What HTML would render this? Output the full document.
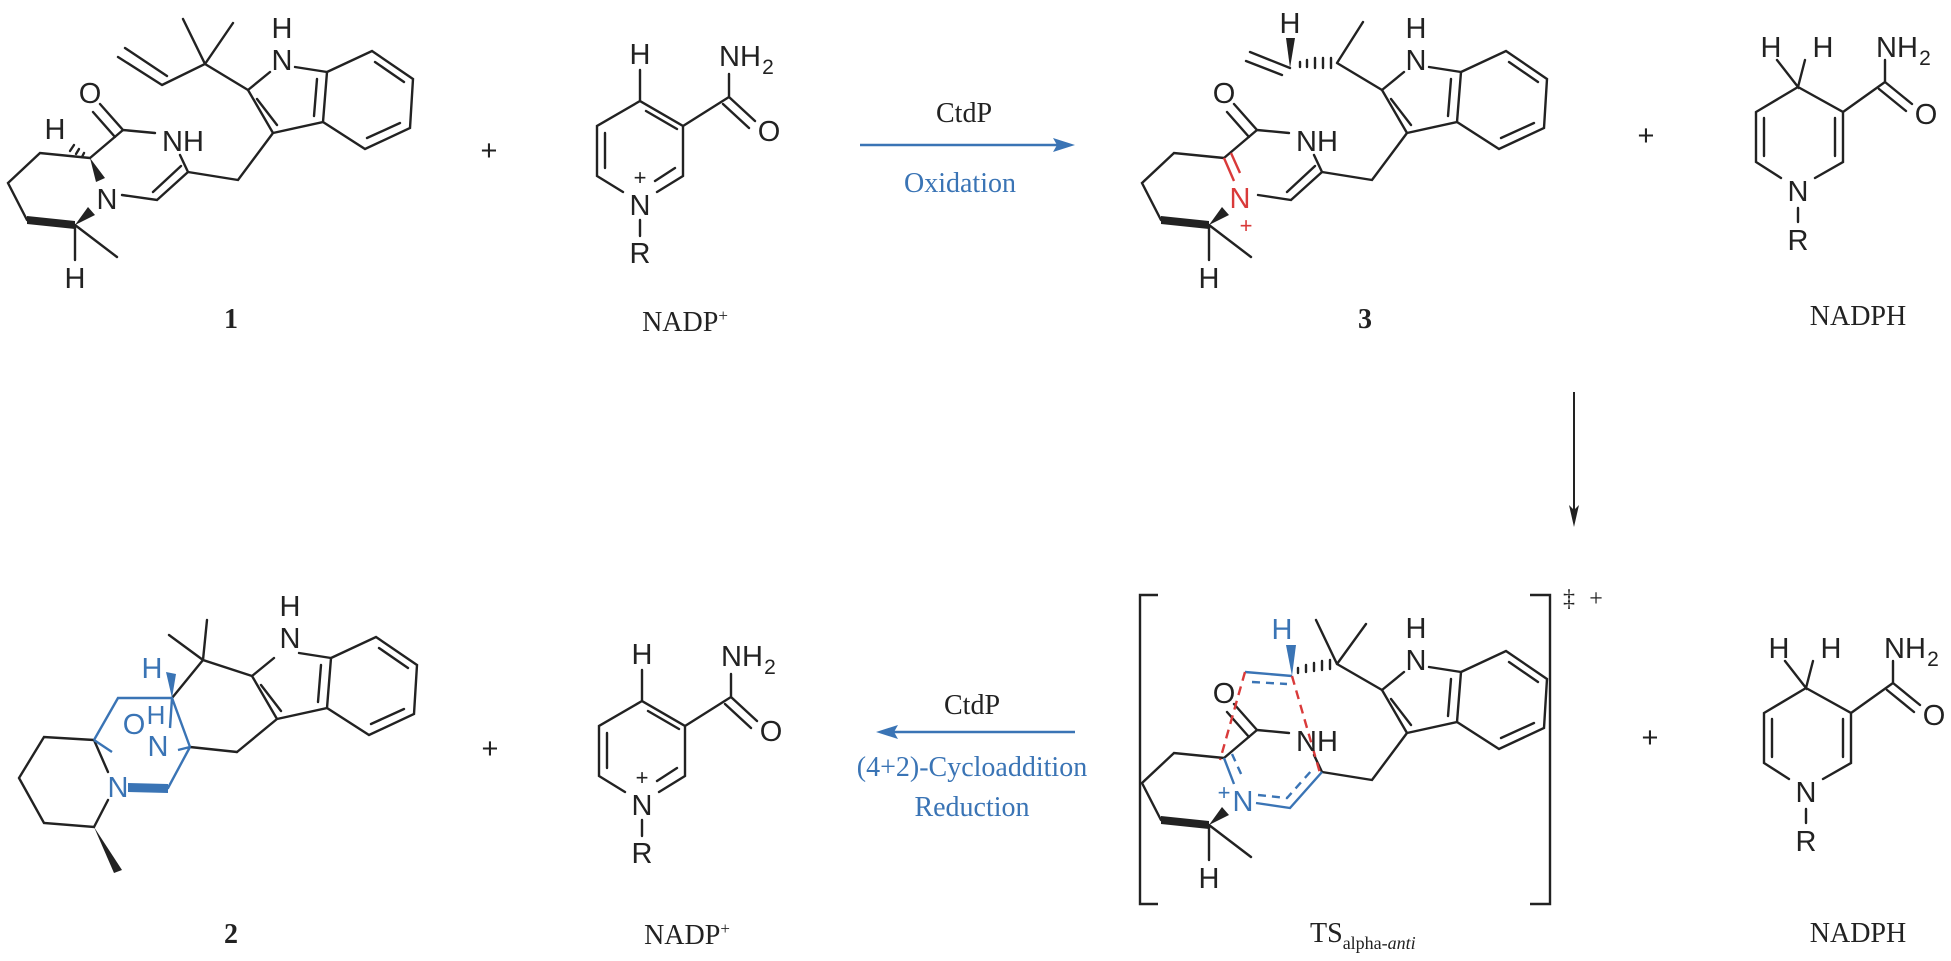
<!DOCTYPE html>
<html><head><meta charset="utf-8"><style>
html,body{margin:0;padding:0;background:#fff;}
svg{display:block;}
.a{font-family:"Liberation Sans",sans-serif;font-size:29px;fill:#222;text-anchor:middle;}
.s{font-family:"Liberation Serif",serif;font-size:28px;fill:#222;text-anchor:middle;}
.b{stroke:#222;stroke-width:2.4;fill:none;stroke-linecap:round;}
.bl{stroke:#3a74b5;stroke-width:2.4;fill:none;}
.rd{stroke:#d93a3a;stroke-width:2.4;fill:none;stroke-dasharray:9 6;}
</style></head><body>
<svg width="1951" height="961" viewBox="0 0 1951 961" xmlns="http://www.w3.org/2000/svg">
<defs>
<g id="core">
 <path class="b" d="M248,90 L273,133 M257,99 L277,125 M248,90 L270,72 M295,67 L327,72 M273,133 L323,122 L327,72 M314,116 L317,79 M327,72 L372,51 L413,79 L410,128 L365,149 L323,122 M375,62 L404,82 M400,123 L367,138 M273,133 L238,180 L188,172 M188,172 L180,155 M155,133 L123,130 M123,130 L100,104 M115,137 L93,112 M90,158 L123,130 M90,158 L40,153 L8,183 L27,220 M75,225 L117,257 M75,225 L75,260"/>
 <polygon points="27,216 75,221 75,229 27,224" fill="#222"/>
 <polygon points="75,225 88,207 95,215" fill="#222"/>
</g>
<g id="nadp">
 <path class="b" d="M640,70 L640,101 L683,126 L683,176 M646,111 L677,129 M683,176 L657,192 M675,168 L655,181 M623,192 L597,176 L597,126 L640,101 M605,168 L605,133 M683,126 L729,97 L729,74 M729,97 L755,121 M723,104 L749,128 M640,220 L640,236"/>
 <text class="a" x="640" y="64">H</text>
 <text class="a" x="740" y="66">NH</text><text class="a" x="768" y="74" style="font-size:21px">2</text>
 <text class="a" x="769" y="141">O</text>
 <text class="a" x="640" y="215">N</text>
 <text class="a" x="640" y="185" style="font-size:22px">+</text>
 <text class="a" x="640" y="263">R</text>
</g>
<g id="nadph">
 <path class="b" d="M1777,60 L1798,87 L1805,60 M1798,87 L1843,112 L1843,162 L1815,178 M1835,118 L1835,156 M1781,178 L1756,162 L1756,112 L1798,87 M1764,118 L1764,156 M1843,112 L1885,82 L1885,60 M1885,82 L1912,104 M1879,89 L1906,111 M1798,208 L1798,222"/>
 <text class="a" x="1771" y="57">H</text><text class="a" x="1823" y="57">H</text>
 <text class="a" x="1897" y="57">NH</text><text class="a" x="1925" y="65" style="font-size:21px">2</text>
 <text class="a" x="1926" y="124">O</text>
 <text class="a" x="1798" y="201">N</text>
 <text class="a" x="1798" y="250">R</text>
</g>
</defs>

<!-- Compound 1 -->
<use href="#core"/>
<path class="b" d="M118,57 L162,85 M125,48 L167,76 M162,85 L205,64 L183,19 M205,64 L233,23 M205,64 L248,90 M188,172 L157,200 L122,195 M181,166 L153,192"/>
<polygon points="90,158 96,182 105,178" fill="#222"/>
<path class="b" d="M84,153 L82,157 M79,149 L76,154 M74,145 L70,151" stroke-width="2"/>
<text class="a" x="282" y="70">N</text><text class="a" x="282" y="38">H</text>
<text class="a" x="183" y="151">NH</text>
<text class="a" x="90" y="103">O</text>
<text class="a" x="107" y="209">N</text>
<text class="a" x="55" y="139">H</text>
<text class="a" x="75" y="288">H</text>
<text class="s" x="231" y="328" style="font-weight:bold">1</text>

<text class="a" x="489" y="160">+</text>
<use href="#nadp"/>
<text class="s" x="685" y="331">NADP<tspan dy="-10" style="font-size:17px">+</tspan></text>

<!-- top arrow -->
<line x1="860" y1="145" x2="1060" y2="145" stroke="#3a74b5" stroke-width="2.4"/>
<polygon points="1075,145 1053,138 1057,145 1053,152" fill="#3a74b5"/>
<text class="s" x="964" y="122">CtdP</text>
<text class="s" x="960" y="192" style="fill:#3a74b5">Oxidation</text>

<!-- Compound 3 -->
<g transform="translate(1134,0)"><use href="#core"/></g>
<path class="b" d="M1337,63 L1363,22 M1337,63 L1382,90 M1322,172 L1291,200 L1258,195 M1315,166 L1287,192 M1250,52 L1290,68 M1246,61 L1282,75"/>
<path stroke="#d93a3a" stroke-width="2.4" fill="none" d="M1224,158 L1234,181 M1231,153 L1240,173"/>
<polygon points="1290,68 1286,38 1295,38" fill="#222"/>
<path class="b" d="M1331,58 L1331,68 M1323,58 L1323,68 M1315,58 L1315,68 M1307,60 L1307,67 M1300,62 L1300,67" stroke-width="2"/>
<text class="a" x="1290" y="33">H</text>
<text class="a" x="1416" y="70">N</text><text class="a" x="1416" y="38">H</text>
<text class="a" x="1317" y="151">NH</text>
<text class="a" x="1224" y="103">O</text>
<text class="a" x="1240" y="208" style="fill:#d93a3a">N</text>
<text class="a" x="1246" y="233" style="fill:#d93a3a;font-size:22px">+</text>
<text class="a" x="1209" y="288">H</text>
<text class="s" x="1365" y="328" style="font-weight:bold">3</text>

<text class="a" x="1646" y="145">+</text>
<use href="#nadph"/>
<text class="s" x="1858" y="325">NADPH</text>

<!-- down arrow -->
<line x1="1574" y1="392" x2="1574" y2="512" stroke="#222" stroke-width="2"/>
<polygon points="1574,527 1569,505 1574,510 1579,505" fill="#222"/>

<!-- TS -->
<g transform="translate(1134,600)"><use href="#core"/></g>
<path class="b" d="M1337,664 L1316,620 M1337,664 L1366,624 M1337,664 L1382,690"/>
<path class="b" d="M1330,660 L1330,669 M1322,661 L1322,670 M1314,663 L1314,671 M1306,665 L1306,672 M1298,668 L1298,673" stroke-width="2"/>
<path class="bl" d="M1292,676 L1245,672 M1224,758 L1234,784 M1256,803 L1290,808 L1322,772"/>
<path class="bl" stroke-dasharray="8 6" d="M1252,682 L1287,684 M1232,754 L1242,776 M1258,795 L1287,798 L1312,770"/>
<polygon points="1292,676 1286,645 1296,645" fill="#3a74b5"/>
<path class="rd" d="M1245,672 L1220,760 M1292,676 L1320,773"/>
<text class="a" x="1282" y="639" style="fill:#3a74b5">H</text>
<text class="a" x="1416" y="670">N</text><text class="a" x="1416" y="638">H</text>
<text class="a" x="1317" y="751">NH</text>
<text class="a" x="1224" y="703">O</text>
<text class="a" x="1243" y="811" style="fill:#3a74b5">N</text>
<text class="a" x="1224" y="800" style="fill:#3a74b5;font-size:22px">+</text>
<text class="a" x="1209" y="888">H</text>
<path stroke="#222" stroke-width="2.4" fill="none" d="M1158,595 H1140 V904 H1158 M1530,595 H1550 V904 H1530"/>
<text class="s" x="1569" y="606" style="font-size:24px">‡</text>
<text class="s" x="1596" y="606" style="font-size:24px">+</text>
<text class="s" x="1310" y="942" style="text-anchor:start">TS<tspan dy="7" style="font-size:18px">alpha-<tspan style="font-style:italic">anti</tspan></tspan></text>

<text class="a" x="1650" y="747">+</text>
<g transform="translate(8,601)"><use href="#nadph"/></g>
<text class="s" x="1858" y="942">NADPH</text>

<!-- bottom arrow -->
<line x1="1075" y1="732" x2="890" y2="732" stroke="#3a74b5" stroke-width="2.4"/>
<polygon points="876,732 898,725 894,732 898,739" fill="#3a74b5"/>
<text class="s" x="972" y="714">CtdP</text>
<text class="s" x="972" y="776" style="fill:#3a74b5">(4+2)-Cycloaddition</text>
<text class="s" x="972" y="816" style="fill:#3a74b5">Reduction</text>

<g transform="translate(2,600)"><use href="#nadp"/></g>
<text class="s" x="687" y="944">NADP<tspan dy="-10" style="font-size:17px">+</tspan></text>
<text class="a" x="490" y="758">+</text>

<!-- Compound 2 -->
<g transform="translate(4,586)">
 <path class="b" d="M248,90 L273,133 M257,99 L277,125 M248,90 L270,72 M295,67 L327,72 M273,133 L323,122 L327,72 M314,116 L317,79 M327,72 L372,51 L413,79 L410,128 L365,149 L323,122 M375,62 L404,82 M400,123 L367,138 M273,133 L233,166"/>
</g>
<path class="b" d="M252,676 L203,660 L169,635 M203,660 L207,620 M203,660 L172,698 M237,752 L190,747"/>
<text class="a" x="290" y="648">N</text><text class="a" x="290" y="616">H</text>
<path class="b" d="M94,740 L44,737 L19,778 L44,823 L94,827 L108,800 M108,772 L94,740"/>
<polygon points="94,827 114,873 122,870" fill="#222"/>
<path class="bl" d="M94,740 L118,698 L172,698 L190,747 M94,740 L112,752 M172,698 L170,728 M190,747 L178,750 M130,788 L168,788 L190,747"/>
<polygon points="128,783 168,784 168,793 128,792" fill="#3a74b5"/>
<polygon points="172,698 166,672 176,674" fill="#3a74b5"/>
<text class="a" x="152" y="678" style="fill:#3a74b5">H</text>
<text class="a" x="134" y="734" style="fill:#3a74b5">O</text>
<text class="a" x="156" y="724" style="fill:#3a74b5;font-size:26px">H</text>
<text class="a" x="158" y="756" style="fill:#3a74b5">N</text>
<text class="a" x="118" y="797" style="fill:#3a74b5">N</text>
<text class="s" x="231" y="943" style="font-weight:bold">2</text>
</svg>
</body></html>
